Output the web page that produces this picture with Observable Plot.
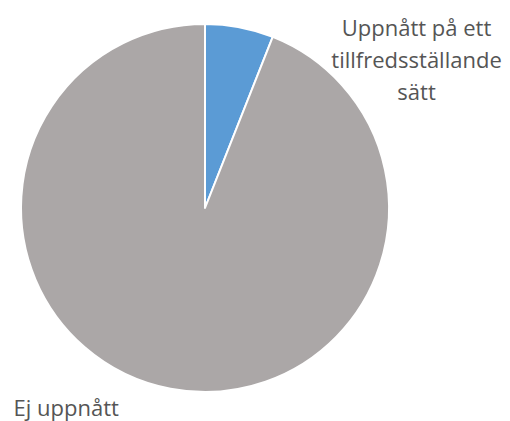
<!DOCTYPE html>
<html>
<head>
<meta charset="utf-8">
<script src="https://cdn.jsdelivr.net/npm/d3@7"></script>
<script src="https://cdn.jsdelivr.net/npm/@observablehq/plot@0.6"></script>
<style>
  html, body { margin: 0; padding: 0; background: #ffffff; }
  #chart { width: 510px; height: 421px; }
</style>
</head>
<body>
<div id="chart"></div>
<script>
// Data
const categories = ["Uppnått på ett\ntillfredsställande\nsätt", "Ej uppnått"];
const values = [6, 94];
const colors = ["#5B9BD5", "#ABA7A7"];

const slices = d3.pie().sort(null).value(d => d.value)(
  categories.map((c, i) => ({label: c, value: values[i], color: colors[i]}))
);

function pieMark() {
  return (index, scales, values_, dims, context) => {
    const cx = scales.x(0), cy = scales.y(0);
    const r = scales.x(1) - scales.x(0);
    const arc = d3.arc().innerRadius(0).outerRadius(r);
    const g = d3.create("svg:g").attr("transform", `translate(${cx},${cy})`);
    g.selectAll("path")
      .data(slices)
      .join("path")
      .attr("d", arc)
      .attr("fill", d => d.data.color)
      .attr("stroke", "#ffffff")
      .attr("stroke-width", 2)
      .attr("stroke-linejoin", "round");
    return g.node();
  };
}

const labelPos = [
  {text: categories[0], x: 1.147, y: 1.06},
  {text: categories[1], x: -1.043, y: -1.125}
];

const chart = Plot.plot({
  width: 510,
  height: 421,
  marginLeft: 21,
  marginRight: 121,
  marginTop: 24,
  marginBottom: 29,
  x: {domain: [-1, 1], axis: null},
  y: {domain: [-1, 1], axis: null},
  style: {fontFamily: "'Open Sans', sans-serif", background: "#ffffff"},
  marks: [
    pieMark(),
    Plot.text([labelPos[0]], {
      x: "x", y: "y", text: "text", textAnchor: "middle", lineAnchor: "top",
      fontSize: 22, lineHeight: 1.45, fill: "#555555"
    }),
    Plot.text([labelPos[1]], {
      x: "x", y: "y", text: "text", textAnchor: "start", lineAnchor: "bottom",
      fontSize: 22, fill: "#555555"
    })
  ]
});
document.getElementById("chart").appendChild(chart);
</script>
</body>
</html>
